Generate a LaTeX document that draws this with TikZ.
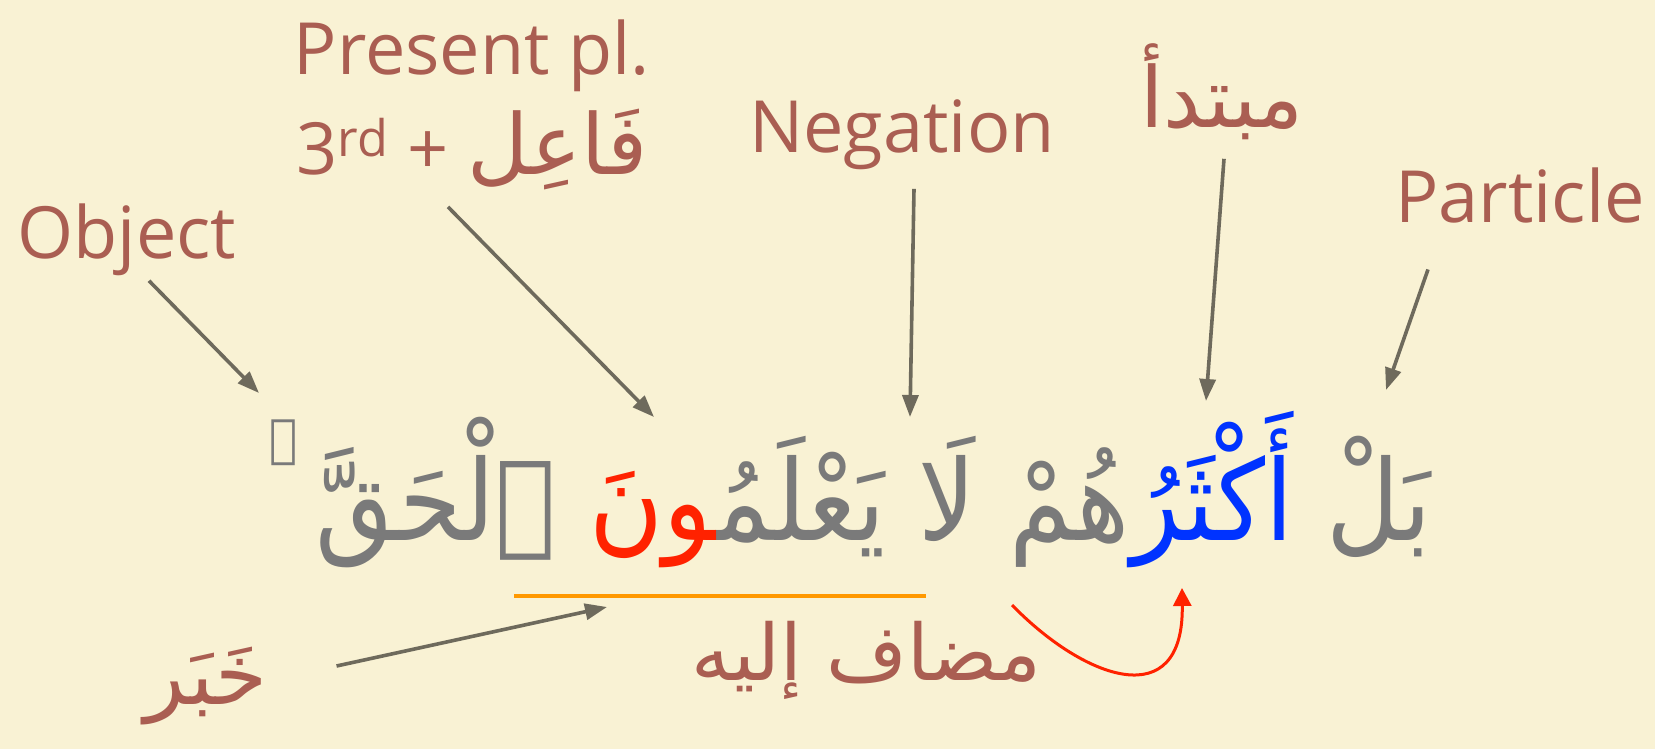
\documentclass[tikz,border=0pt]{standalone}
\usepackage{fontspec}
\setmainfont{Open Sans}
\newfontfamily\arabicfont[Script=Arabic]{DejaVu Sans}
\newfontfamily\versefont[Script=Arabic,FakeStretch=0.9]{DejaVu Sans}
\TeXXeTstate=1
\usetikzlibrary{arrows.meta,positioning}
\definecolor{paper}{RGB}{249,242,212}
\definecolor{tagred}{RGB}{170,94,82}
\definecolor{inkgray}{RGB}{122,122,122}
\definecolor{arrowgray}{RGB}{110,106,92}
\definecolor{ayblue}{RGB}{0,51,255}
\definecolor{ayred}{RGB}{255,34,0}
\definecolor{lineorange}{RGB}{255,153,0}
\newcommand{\ar}[2][42]{{\arabicfont\fontsize{#1}{50}\selectfont\beginR #2\endR}}
\newcommand{\zwj}{^^^^200d}
\tikzset{every picture/.style={line width=0.75pt}}
\tikzset{
  tag/.style={text=tagred, inner sep=2pt, font=\fontsize{36}{50}\selectfont},
  pointer/.style={draw=arrowgray, line width=1.8pt, -{Triangle[length=11pt,width=8pt]}},
  word/.style={text=inkgray, inner sep=0pt, font=\versefont\fontsize{56}{64}\selectfont},
}

\begin{document}
\begin{tikzpicture}[x=0.5pt,y=0.5pt,yscale=-1,xscale=1]
    \fill[paper] (0,0) rectangle (1655,749);
    % the verse, one node per word, from right to left
    \node[word, anchor=base east] (bal) at (1432,540) {بَلْ};
    \node[word, text=ayblue, base left=16pt of bal] (akthar) {أَكْثَرُ\zwj};
    \node[word, base left=0pt of akthar] (hum) {هُمْ};
    \node[word, base left=16pt of hum] (la) {لَا};
    \node[word, base left=16pt of la] (yalam) {يَعْلَمُ\zwj};
    \node[word, text=ayred, base left=0pt of yalam] (una) {\zwj ونَ};
    \node[word, base left=16pt of una] (haqq) {ٱلْحَقَّ};
    \node[word, font=\versefont\fontsize{26}{26}\selectfont, base left=8pt of haqq, yshift=42pt] (pause) {ۖ};
    % labels
    \node[tag] (object) at (127,240) {Object};
    \node[tag, align=center] (present) at (472,105) {Present pl.\\3\textsuperscript{rd} + \ar{فَاعِل}};
    \node[tag] (negation) at (902,135) {Negation};
    \node[tag] (mubtada) at (1222,92) {\ar{مبتدأ}};
    \node[tag] (particle) at (1520,195) {Particle};
    \node[tag] (khabar) at (206,686) {\ar{خَبَر}};
    \node[tag] (mudaf) at (866,660) {\ar[39]{مضاف إليه}};
    % targets
    \coordinate (objtip) at (259,393);
    \coordinate (pretip) at (654,417);
    \coordinate (negtip) at (910,417);
    \coordinate (mubtip) at (1206,401);
    \coordinate (partip) at (1386,390);
    \coordinate (khatip) at (607,607);
    \coordinate (ulstart) at (514,596);
    \coordinate (ulend) at (926,596);
    \coordinate (hmfoot) at (1012,605);
    \coordinate (aktip) at (1182,588);
    % connectors
    \draw[pointer] ([shift={(22,0)}]object.south) -- (objtip);
    \draw[pointer] ([shift={(-24,12)}]present.south) -- (pretip);
    \draw[pointer] ([shift={(12,14)}]negation.south) -- (negtip);
    \draw[pointer] ([shift={(2,14)}]mubtada.south) -- (mubtip);
    \draw[pointer] ([shift={(-92,42)}]particle.south) -- (partip);
    \draw[pointer] ([shift={(64,-20)}]khabar.east) -- (khatip);
    \draw[lineorange, line width=2pt] (ulstart) -- (ulend);
    \draw[ayred, line width=1.5pt, -{Triangle[length=9pt,width=9pt]}] (hmfoot) .. controls (1085,680) and (1184,715) .. (aktip);
\end{tikzpicture}
\end{document}
